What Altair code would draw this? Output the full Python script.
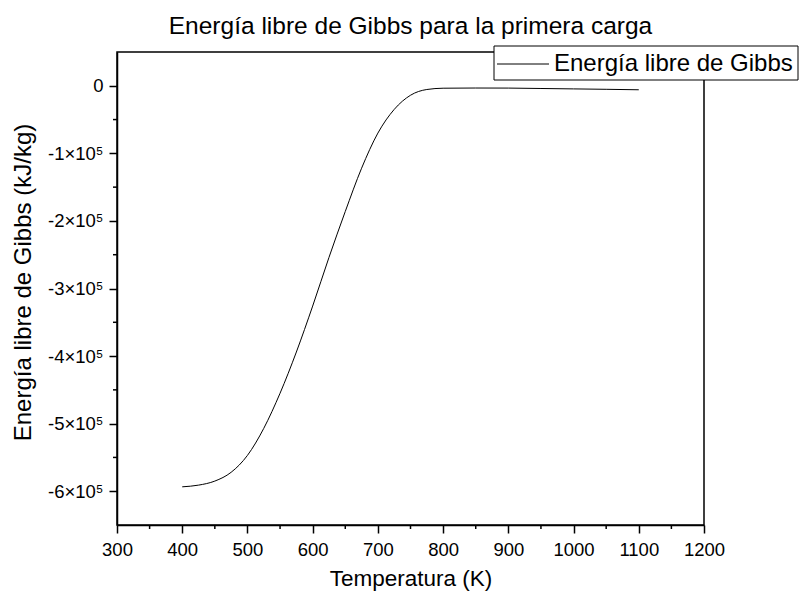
import altair as alt
import pandas as pd

# data
temps = [400, 425, 450, 475, 500, 525, 550, 575, 600, 625, 650, 675, 700, 725, 750,
         775, 800, 850, 900, 950, 1000, 1050, 1100]
gibbs = [-593500, -591000, -585000, -572000, -547000, -507000, -455000, -394000,
         -326000, -254000, -186000, -122000, -70000, -35000, -14000, -5500, -3600,
         -3300, -3400, -4000, -4600, -5200, -5900]

x_major = [300, 400, 500, 600, 700, 800, 900, 1000, 1100, 1200]
x_minor = [350, 450, 550, 650, 750, 850, 950, 1050, 1150]
y_major = [-600000, -500000, -400000, -300000, -200000, -100000, 0]
y_minor = [-550000, -450000, -350000, -250000, -150000, -50000]

title_text = "Energía libre de Gibbs para la primera carga"
series_name = "Energía libre de Gibbs"
x_title = "Temperatura (K)"
y_title = "Energía libre de Gibbs (kJ/kg)"

FONT = "Liberation Sans"
W, H = 587, 473

xs = alt.Scale(domain=[300, 1200], nice=False, zero=False)
ys = alt.Scale(domain=[-650000, 50000], nice=False, zero=False)
x_axis = alt.Axis(values=x_major, labelExpr="datum.value", titlePadding=9,
                  labelFlush=False, labelPadding=7, titleFontSize=22.5)
y_axis = alt.Axis(values=y_major, titlePadding=12, titleFontSize=24, titleY=230,
                  labelFlush=False, labelPadding=6,
                  labelExpr="datum.value == 0 ? '0' : (datum.value < 0 ? '-' : '') + abs(datum.value)/100000 + '×10⁵'")

df = pd.DataFrame({"T": temps, "G": gibbs})

line = alt.Chart(df).mark_line(color="black", strokeWidth=1, interpolate="monotone").encode(
    x=alt.X("T:Q", scale=xs, title=x_title, axis=x_axis),
    y=alt.Y("G:Q", scale=ys, title=y_title, axis=y_axis),
)

minor_x = alt.Chart(pd.DataFrame({"T": x_minor})).mark_rule(color="black", strokeWidth=1.5).encode(
    x=alt.X("T:Q", scale=xs, title=x_title, axis=x_axis),
    y=alt.value(H),
    y2=alt.value(H + 4),
)

minor_y = alt.Chart(pd.DataFrame({"G": y_minor})).mark_rule(color="black", strokeWidth=1.5).encode(
    y=alt.Y("G:Q", scale=ys, title=y_title, axis=y_axis),
    x=alt.value(-4),
    x2=alt.value(0),
)

leg_df = pd.DataFrame({"name": [series_name]})
leg_box = alt.Chart(leg_df).mark_rect(fill="white", stroke="black", strokeWidth=1).encode(
    x=alt.value(377), x2=alt.value(681), y=alt.value(-6), y2=alt.value(28))
leg_line = alt.Chart(leg_df).mark_rule(color="black", strokeWidth=1).encode(
    x=alt.value(380), x2=alt.value(432), y=alt.value(12))
leg_text = alt.Chart(leg_df).mark_text(align="left", baseline="middle", font=FONT,
                                       fontSize=24, color="black").encode(
    x=alt.value(437), y=alt.value(12), text="name:N")

chart = alt.layer(line, minor_x, minor_y, leg_box, leg_line, leg_text).properties(
    width=W, height=H,
    title=alt.TitleParams(title_text, font=FONT, fontSize=24.5, fontWeight="normal",
                          anchor="middle", color="black", offset=6),
    autosize=alt.AutoSizeParams(type="none"),
    padding={"left": 109, "top": 44, "right": 95, "bottom": 66},
).configure_view(stroke="black", strokeWidth=1.5).configure_axis(
    grid=False, domainColor="black", domainWidth=1.5, tickColor="black", tickWidth=1.5,
    tickSize=8, labelFont=FONT, labelFontSize=18.5, labelColor="black",
    titleFont=FONT, titleFontWeight="normal", titleColor="black",
)

chart.save("out.html", embed_options={"renderer": "svg", "actions": False})
